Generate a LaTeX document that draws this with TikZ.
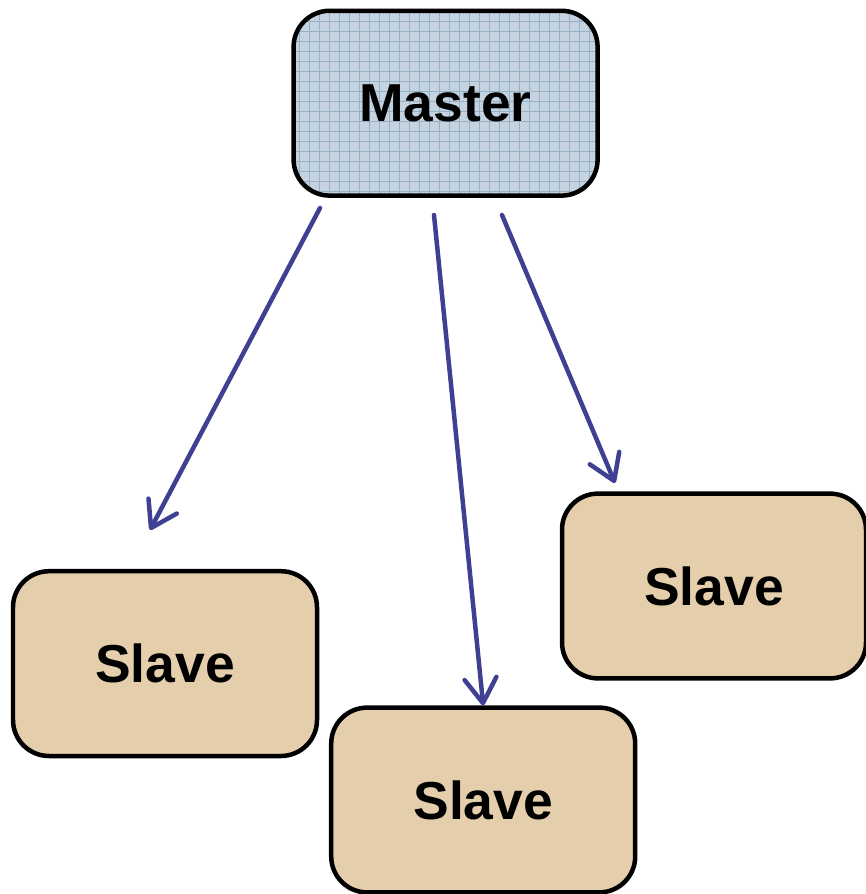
\documentclass[tikz,border=0pt]{standalone}
\usepackage{fontspec}
\setmainfont{Liberation Sans}
\usetikzlibrary{arrows.meta,positioning}
\definecolor{masterfill}{RGB}{196,211,223}
\definecolor{mastergrid}{RGB}{150,176,196}
\definecolor{slavefill}{RGB}{229,206,171}
\definecolor{linkblue}{RGB}{64,64,146}

\begin{document}
\begin{tikzpicture}[
    link/.style={-{Straight Barb[length=0.62cm,width=0.8cm,line cap=round,line join=round]},line width=3.2pt,draw=linkblue,line cap=round},
    box/.style={rectangle,rounded corners=0.9cm,draw=black,line width=3.2pt,minimum width=7.6cm,minimum height=4.62cm,font=\fontsize{38}{44}\selectfont\bfseries},
    slave/.style={box,fill=slavefill},
    master/.style={box,fill=masterfill,path picture={\draw[mastergrid,line width=0.6pt,step=0.25cm] (path picture bounding box.south west) grid (path picture bounding box.north east);}}
]
\useasboundingbox (0,0) rectangle (21.625,-22.35);

% Master and Slave nodes
\node[master] (master) at (11.14,-2.58) {Master};
\node[slave] (slaveleft) at (4.125,-16.59) {Slave};
\node[slave] (slavemid) at (12.08,-20.0) {Slave};
\node[slave] (slaveright) at (17.85,-14.65) {Slave};

% Arrow ends
\coordinate (a1) at (8.0,-5.2);
\coordinate (b1) at (3.75,-13.25);
\coordinate (a2) at (10.85,-5.375);
\coordinate (a3) at (12.55,-5.375);
\coordinate (b3) at (15.375,-12.075);

% Links
\draw[link] (a1) -- (b1);
\draw[link] (a2) -- (slavemid.north);
\draw[link] (a3) -- (b3);

\end{tikzpicture}
\end{document}
